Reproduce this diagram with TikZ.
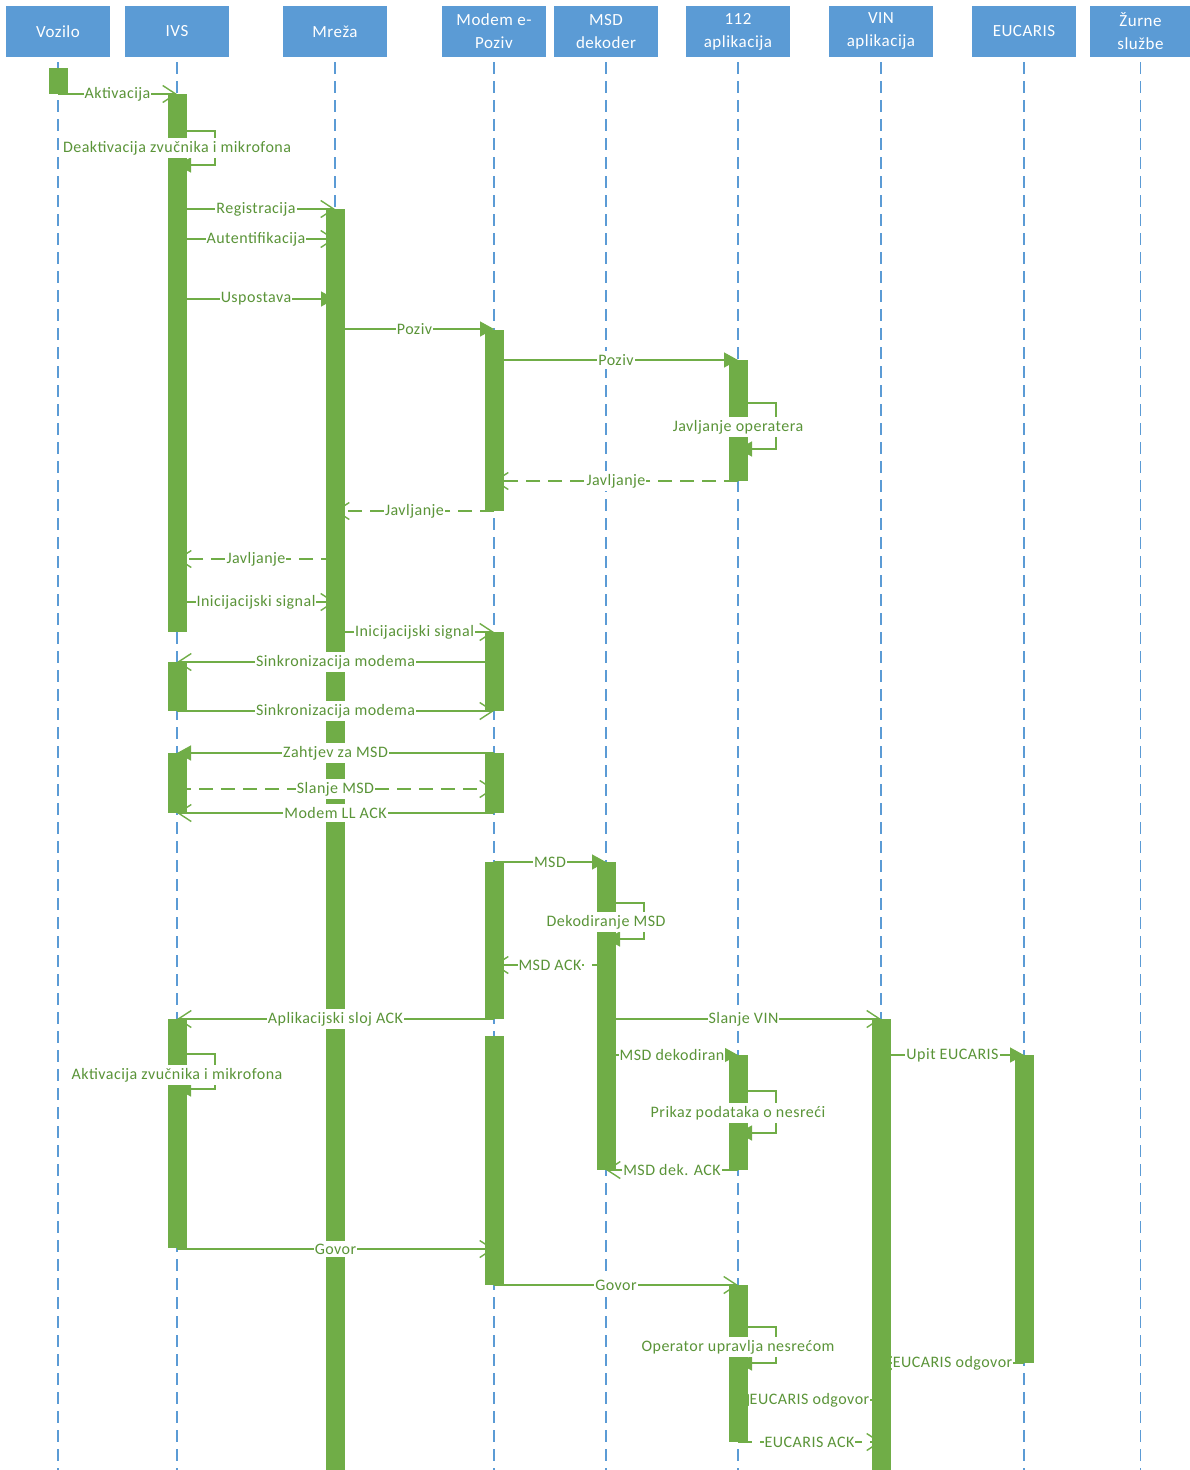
\documentclass[tikz,border=0pt]{standalone}
\usepackage{fontspec}
\setmainfont{Carlito}[LetterSpace=3]
\usetikzlibrary{arrows.meta,calc}

\definecolor{headblue}{HTML}{5B9BD5}
\definecolor{bargreen}{HTML}{70AD47}
\definecolor{txtgreen}{HTML}{5A9438}

\tikzset{
  head/.style={fill=headblue, text=white, minimum width=104pt, minimum height=51pt,
    inner sep=0pt, align=center, font=\fontsize{17}{23}\selectfont},
  life/.style={draw=headblue, line width=1.3pt, dash pattern=on 12pt off 7pt},
  actbar/.style={fill=bargreen},
  msg/.style={draw=bargreen, line width=1.4pt},
  ans/.style={msg, dash pattern=on 14pt off 8pt},
  tipv/.style={-{Straight Barb[length=13pt,width=17pt,line width=1.4pt]}},
  tipf/.style={-{Triangle[length=14pt,width=15pt]}},
  lbl/.style={fill=white, text=txtgreen, inner xsep=1pt, inner ysep=3pt,
    font=\fontsize{16}{19}\selectfont},
}

\newcommand{\actbox}[3]{\fill[actbar] ($(#1 |- 0,#2)+(-9.5,0)$) rectangle ($(#1 |- 0,#3)+(9.5,0)$);}

\begin{document}
\begin{tikzpicture}[x=1pt,y=-1pt]
  \useasboundingbox (0,0) rectangle (1189,1470);

  \node[head] (vozilo)  at (58,31.5)   {Vozilo};
  \node[head] (ivs)     at (177,31.5)  {IVS};
  \node[head] (mreza)   at (335,31.5)  {Mreža};
  \node[head] (modem)   at (494,31.5)  {Modem e-\\Poziv};
  \node[head] (msd)     at (606,31.5)  {MSD\\dekoder};
  \node[head] (app)     at (738,31.5)  {112\\aplikacija};
  \node[head] (vin)     at (881,31.5)  {VIN\\aplikacija};
  \node[head] (eucaris) at (1024,31.5) {EUCARIS};
  \node[head, minimum width=101pt] (zurne) at (1140.5,31.5) {Žurne\\službe};

  \foreach \n in {vozilo,ivs,mreza,modem,msd,app,vin,eucaris,zurne}
    \draw[life] ([yshift=-5pt]\n.south) -- (\n |- 0,1470);

  \actbox{vozilo}{68}{94}
  \actbox{ivs}{94}{632}
  \actbox{ivs}{662}{711}
  \actbox{ivs}{753}{813}
  \actbox{ivs}{1019}{1248}
  \actbox{mreza}{209}{1470}
  \actbox{modem}{330}{511}
  \actbox{modem}{632}{711}
  \actbox{modem}{753}{813}
  \actbox{modem}{862}{1019}
  \actbox{modem}{1036}{1285}
  \actbox{msd}{862}{1170}
  \actbox{app}{360}{481}
  \actbox{app}{1055}{1170}
  \actbox{app}{1285}{1442}
  \actbox{vin}{1019}{1470}
  \actbox{eucaris}{1055}{1363}

  \draw[msg,tipv] (vozilo |- 0,94) -- node[lbl] {Aktivacija} (ivs |- 0,94);
  \draw[msg,tipf] (ivs |- 0,131) -- ++(38,0) |- (ivs |- 0,165);
  \node[lbl] (deakt) at (ivs |- 0,148) {Deaktivacija zvučnika i mikrofona};
  \draw[msg,tipv] (ivs |- 0,209) -- node[lbl] {Registracija} (mreza |- 0,209);
  \draw[msg,tipv] (ivs |- 0,239) -- node[lbl] {Autentifikacija} (mreza |- 0,239);
  \draw[msg,tipf] (ivs |- 0,299) -- node[lbl] {Uspostava} (mreza |- 0,299);
  \draw[msg,tipf] (mreza |- 0,329) -- node[lbl] {Poziv} (modem |- 0,329);
  \draw[msg,tipf] (modem |- 0,360) -- node[lbl] {Poziv} (app |- 0,360);
  \draw[msg,tipf] (app |- 0,403) -- ++(38,0) |- (app |- 0,449);
  \node[lbl] (javop) at (app |- 0,427) {Javljanje operatera};
  \draw[ans,tipv] (app |- 0,481) -- node[lbl] {Javljanje} (modem |- 0,481);
  \draw[ans,tipv] (modem |- 0,511) -- node[lbl] {Javljanje} (mreza |- 0,511);
  \draw[ans,tipv] (mreza |- 0,559) -- node[lbl] {Javljanje} (ivs |- 0,559);
  \draw[msg,tipv] (ivs |- 0,602) -- node[lbl] {Inicijacijski signal} (mreza |- 0,602);
  \draw[msg,tipv] (mreza |- 0,632) -- node[lbl] {Inicijacijski signal} (modem |- 0,632);
  \draw[msg,tipv] (modem |- 0,662) -- node[lbl] {Sinkronizacija modema} (ivs |- 0,662);
  \draw[msg,tipv] (ivs |- 0,711) -- node[lbl] {Sinkronizacija modema} (modem |- 0,711);
  \draw[msg,tipf] (modem |- 0,753) -- node[lbl] {Zahtjev za MSD} (ivs |- 0,753);
  \draw[ans,tipv] (ivs |- 0,789) -- node[lbl] {Slanje MSD} (modem |- 0,789);
  \draw[msg,tipv] (modem |- 0,813) -- node[lbl] {Modem LL ACK} (ivs |- 0,813);
  \draw[msg,tipf] (modem |- 0,862) -- node[lbl] {MSD} (msd |- 0,862);
  \draw[msg,tipf] (msd |- 0,903) -- ++(38,0) |- (msd |- 0,939);
  \node[lbl] (dekod) at (msd |- 0,922) {Dekodiranje MSD};
  \draw[ans,tipv] (msd |- 0,965) -- node[lbl] {MSD ACK} (modem |- 0,965);
  \draw[msg,tipv] (modem |- 0,1019) -- node[lbl] {Aplikacijski sloj ACK} (ivs |- 0,1019);
  \draw[msg,tipv] (msd |- 0,1019) -- node[lbl] {Slanje VIN} (vin |- 0,1019);
  \draw[msg,tipf] (msd |- 0,1055) -- node[lbl] {MSD dekodiran} (app |- 0,1055);
  \draw[msg,tipf] (vin |- 0,1055) -- node[lbl] {Upit EUCARIS} (eucaris |- 0,1055);
  \draw[msg,tipf] (app |- 0,1091) -- ++(38,0) |- (app |- 0,1133);
  \node[lbl] (prikaz) at (app |- 0,1113) {Prikaz podataka o nesreći};
  \draw[msg,tipv] (app |- 0,1170) -- node[lbl] {MSD dek. ACK} (msd |- 0,1170);
  \draw[msg,tipf] (ivs |- 0,1054) -- ++(38,0) |- (ivs |- 0,1089);
  \node[lbl] (aktiv) at (ivs |- 0,1075) {Aktivacija zvučnika i mikrofona};
  \draw[msg,tipv] (ivs |- 0,1249) -- node[lbl] {Govor} (modem |- 0,1249);
  \draw[msg,tipv] (modem |- 0,1285) -- node[lbl] {Govor} (app |- 0,1285);
  \draw[msg,tipf] (app |- 0,1327) -- ++(38,0) |- (app |- 0,1363);
  \node[lbl] (uprav) at (app |- 0,1347) {Operator upravlja nesrećom};
  \draw[msg,tipv] (eucaris |- 0,1363) -- node[lbl] {EUCARIS odgovor} (vin |- 0,1363);
  \draw[msg,tipf] (vin |- 0,1400) -- node[lbl] {EUCARIS odgovor} (app |- 0,1400);
  \draw[ans,tipv] (app |- 0,1442) -- node[lbl] {EUCARIS ACK} (vin |- 0,1442);
\end{tikzpicture}
\end{document}
